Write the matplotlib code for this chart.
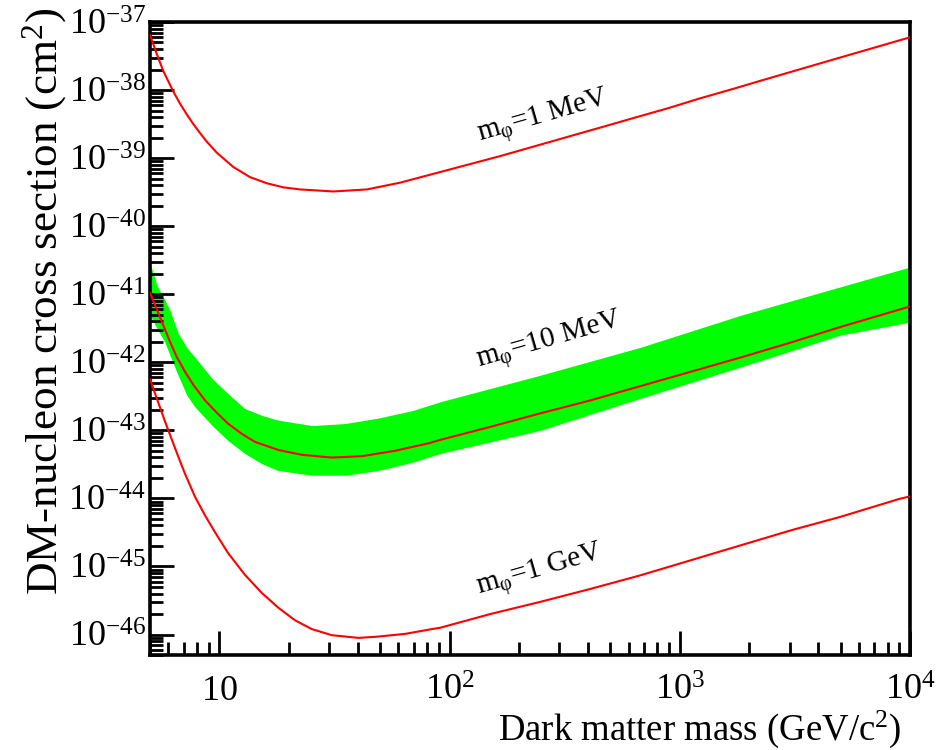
import numpy as np
import matplotlib
matplotlib.use("Agg")
import matplotlib.pyplot as plt
import matplotlib.transforms as mtransforms
from matplotlib.ticker import FixedLocator, LogLocator, NullFormatter, FixedFormatter

plt.rcParams['font.family'] = ['Liberation Serif', 'DejaVu Serif']
plt.rcParams['mathtext.fontset'] = 'custom'
plt.rcParams['mathtext.rm'] = 'Liberation Serif'
plt.rcParams['mathtext.it'] = 'Liberation Serif:italic'
plt.rcParams['mathtext.default'] = 'regular'

# Dark matter mass (GeV/c^2) and log10 of the cross-section limit (cm^2)
mass_1mev = [5.0, 5.35, 5.71, 6.31, 6.75, 7.23, 7.71, 8.24, 8.83, 9.75,
             11.5, 13.6, 16.1, 19.0, 22.4, 31.3, 43.8, 61.1, 85.3, 119, 166,
             232, 324, 453, 631, 883, 1230, 1718, 2208, 5000, 10000]
logxs_1mev = [-37.19, -37.47, -37.72, -38.02, -38.20, -38.36, -38.50, -38.63,
              -38.76, -38.92, -39.13, -39.28, -39.37, -39.43, -39.46, -39.49,
              -39.46, -39.36, -39.23, -39.10, -38.97, -38.83, -38.69, -38.55,
              -38.41, -38.27, -38.12, -37.98, -37.87, -37.52, -37.225]

mass_10mev = [5.0, 5.35, 5.81, 6.11, 6.53, 7.10, 7.71, 8.67, 9.75, 10.9, 12.5,
              14.3, 18.1, 22.9, 30.8, 41.6, 58.1, 81.1, 91.2, 150, 248, 409,
              675, 1114, 1837, 3034, 5000, 9120, 10000]
logxs_10mev = [-40.98, -41.22, -41.52, -41.70, -41.92, -42.14, -42.33, -42.56,
               -42.74, -42.90, -43.05, -43.17, -43.29, -43.36, -43.40, -43.38,
               -43.30, -43.19, -43.14, -42.95, -42.75, -42.56, -42.35, -42.14,
               -41.93, -41.71, -41.48, -41.22, -41.18]

mass_1gev = [5.0, 5.35, 5.81, 6.21, 6.64, 7.10, 7.85, 8.67, 9.59, 10.9,
             12.9, 15.3, 18.1, 21.3, 25.2, 30.8, 40.3, 49.2, 64.3, 83.9, 91.2,
             150, 248, 409, 675, 1114, 1837, 3034, 5000, 8933, 10000]
logxs_1gev = [-42.25, -42.53, -42.87, -43.13, -43.39, -43.64, -43.98, -44.25,
              -44.50, -44.80, -45.12, -45.39, -45.61, -45.79, -45.92, -46.01,
              -46.05, -46.03, -45.99, -45.92, -45.90, -45.70, -45.52, -45.33,
              -45.13, -44.91, -44.69, -44.47, -44.27, -44.01, -43.97]

# Uncertainty band around the m_phi = 10 MeV limit
band_mass = [5.0, 5.36, 5.81, 6.11, 6.62, 7.24, 7.85, 9.31, 10.9, 12.9, 15.3,
             18.0, 25.3, 35.2, 49.0, 68.9, 91.2, 248, 675, 1837, 5000, 10000]
band_upper = [-40.54, -40.87, -41.09, -41.24, -41.57, -41.79, -41.93, -42.24,
              -42.46, -42.68, -42.78, -42.85, -42.93, -42.90, -42.82, -42.71,
              -42.58, -42.19, -41.78, -41.31, -40.89, -40.60]
band_lower = [-41.31, -41.50, -41.71, -41.90, -42.19, -42.49, -42.66, -42.93,
              -43.15, -43.34, -43.49, -43.59, -43.66, -43.66, -43.59, -43.47,
              -43.34, -43.00, -42.53, -42.07, -41.60, -41.41]

curve_labels = ["m$_{φ}$=1 MeV", "m$_{φ}$=10 MeV", "m$_{φ}$=1 GeV"]
label_mass = [255, 272, 248]
label_logxs = [-38.40, -41.70, -45.07]
label_angle = [16, 16, 16]

x_ticks = [10, 100, 1000, 10000]
x_ticklabels = ["$10$", "$10^{2}$", "$10^{3}$", "$10^{4}$"]
y_exponents = list(range(-46, -36))

fig = plt.figure(figsize=(9.43, 7.5), dpi=100)
ax = fig.add_axes([150 / 943, 95 / 750, 760 / 943, 633 / 750])
ax.set_xscale('log')
ax.set_yscale('log')
ax.set_xlim(5, 1e4)
ax.set_ylim(5e-47, 1e-37)

ax.fill_between(band_mass, 10.0 ** np.array(band_lower), 10.0 ** np.array(band_upper),
                color='#00ff00', linewidth=0, zorder=1)

for m, s in [(mass_1mev, logxs_1mev), (mass_10mev, logxs_10mev), (mass_1gev, logxs_1gev)]:
    ax.plot(m, 10.0 ** np.array(s), color='#ff0000', linewidth=1.5, zorder=3)

for txt, m, s, a in zip(curve_labels, label_mass, label_logxs, label_angle):
    ax.text(m, 10.0 ** s, txt, fontsize=21, rotation=a, rotation_mode='anchor',
            ha='center', va='center', zorder=4)

# Axis ticks: x labels share a common baseline below the frame
ax.xaxis.set_major_locator(FixedLocator(x_ticks))
ax.xaxis.set_major_formatter(NullFormatter())
ax.xaxis.set_minor_locator(LogLocator(base=10, subs=np.arange(2, 10), numticks=20))
ax.xaxis.set_minor_formatter(NullFormatter())
xtrans = mtransforms.blended_transform_factory(ax.transData, ax.transAxes)
for xv, lab in zip(x_ticks, x_ticklabels):
    ax.text(xv, -0.0711, lab, transform=xtrans, fontsize=26, ha='center',
            va='baseline', clip_on=False)

ax.yaxis.set_major_locator(FixedLocator([10.0 ** e for e in y_exponents]))
ax.yaxis.set_major_formatter(FixedFormatter([f"$10^{{{e}}}$" for e in y_exponents]))
ax.yaxis.set_minor_locator(LogLocator(base=10, subs=np.arange(2, 10), numticks=20))
ax.yaxis.set_minor_formatter(NullFormatter())

ax.tick_params(which='both', direction='in', top=False, right=False, width=2.0,
               labelsize=26)
ax.tick_params(which='major', length=17.5)
ax.tick_params(which='minor', length=9.5)
ax.tick_params(axis='y', which='major', pad=3)

for sp in ax.spines.values():
    sp.set_linewidth(2.6)

ax.set_xlabel("Dark matter mass (GeV/c$^{2}$)", fontsize=26.5, loc='right')
ax.xaxis.label.set_va('baseline')
ax.xaxis.set_label_coords(0.988, -0.1335)
ax.set_ylabel("DM-nucleon cross section (cm$^{2}$)", fontsize=32.5, loc='top')
ax.yaxis.label.set_va('baseline')
ax.yaxis.set_label_coords(-0.123, 1.022)

fig.savefig("out.png", dpi=100)
